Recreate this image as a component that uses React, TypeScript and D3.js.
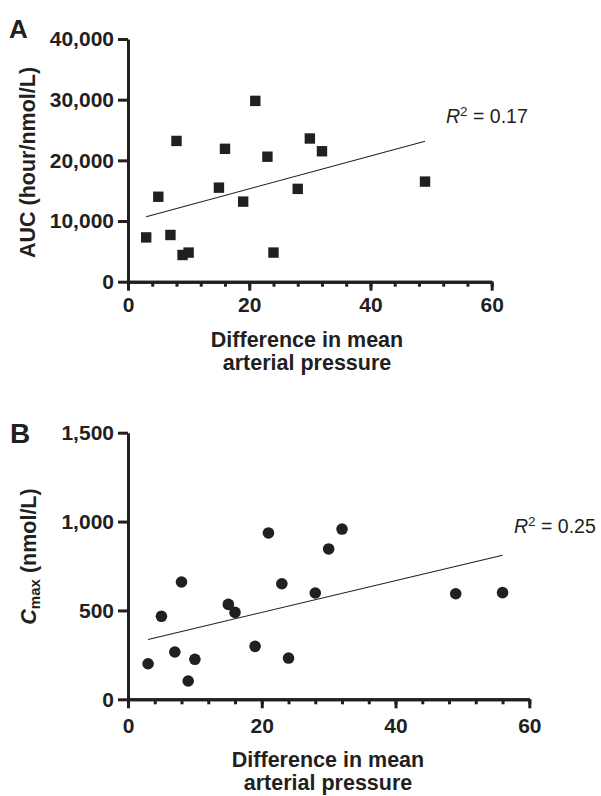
import { useRef, useEffect } from 'react';
import * as d3 from 'd3';

// Difference in mean arterial pressure vs exposure (AUC, Cmax)

const W = 601;
const H = 796;
const INK = '#231f20';
const FONT = '"Liberation Sans", Arial, Helvetica, sans-serif';

// panel A — AUC
const aucX = [3, 5, 7, 8, 9, 10, 15, 16, 19, 21, 23, 24, 28, 30, 32, 49];
const aucY = [7300, 14000, 7700, 23200, 4400, 4800, 15500, 21900, 13200, 29800, 20600, 4800, 15300, 23600, 21500, 16500];
const aucFit = { slope: 270.2, intercept: 9900 };
const aucTicks = [0, 10000, 20000, 30000, 40000];

// panel B — Cmax
const cmaxX = [3, 5, 7, 8, 9, 10, 15, 16, 19, 21, 23, 24, 28, 30, 32, 49, 56];
const cmaxY = [200, 467, 266, 660, 103, 225, 534, 489, 298, 936, 650, 232, 598, 846, 958, 594, 600];
const cmaxFit = { slope: 8.94, intercept: 310 };
const cmaxTicks = [0, 500, 1000, 1500];

const xMajor = [0, 20, 40, 60];
const xMinor = [0, 4, 8, 12, 16, 20, 24, 28, 32, 36, 40, 44, 48, 52, 56, 60];

function drawPanel(g, p) {
  const x = d3.scaleLinear().domain([0, 60]).range([p.left, p.right]);
  const y = d3.scaleLinear().domain([0, p.yMax]).range([p.bottom, p.top]);

  const styleAxis = (a) => {
    a.select('.domain').attr('stroke', INK).attr('stroke-width', 3);
    a.selectAll('.tick line').attr('stroke', INK).attr('stroke-width', 3);
    a.selectAll('.tick text')
      .attr('fill', INK)
      .attr('font-family', FONT)
      .attr('font-weight', 'bold')
      .attr('font-size', 21);
  };

  // minor x ticks
  g.append('g')
    .attr('transform', `translate(0,${p.bottom})`)
    .call(d3.axisBottom(x).tickValues(xMinor).tickSize(5).tickSizeOuter(0).tickFormat(() => ''))
    .call(styleAxis);

  g.append('g')
    .attr('transform', `translate(0,${p.bottom})`)
    .call(d3.axisBottom(x).tickValues(xMajor).tickSize(9).tickSizeOuter(0).tickPadding(p.xPad))
    .call(styleAxis);

  g.append('g')
    .attr('transform', `translate(${p.left},0)`)
    .call(d3.axisLeft(y).tickValues(p.yTicks).tickSize(10).tickSizeOuter(0).tickPadding(4).tickFormat(d3.format(',')))
    .call(styleAxis);

  // regression line over the data range
  const [x0, x1] = d3.extent(p.xs);
  g.append('line')
    .attr('x1', x(x0)).attr('y1', y(p.fit.intercept + p.fit.slope * x0))
    .attr('x2', x(x1)).attr('y2', y(p.fit.intercept + p.fit.slope * x1))
    .attr('stroke', INK).attr('stroke-width', 1.1);

  const pts = p.xs.map((v, i) => [v, p.ys[i]]);
  if (p.marker === 'square') {
    g.selectAll('rect.pt').data(pts).join('rect')
      .attr('x', (d) => x(d[0]) - 5.2).attr('y', (d) => y(d[1]) - 5.2)
      .attr('width', 10.4).attr('height', 10.4)
      .attr('fill', INK);
  } else {
    g.selectAll('circle.pt').data(pts).join('circle')
      .attr('cx', (d) => x(d[0])).attr('cy', (d) => y(d[1]))
      .attr('r', 5.8)
      .attr('fill', INK);
  }

  // R² label
  const r = g.append('text')
    .attr('x', p.r2x).attr('y', p.r2y)
    .attr('font-family', FONT).attr('font-size', 19.5).attr('fill', INK);
  r.append('tspan').attr('font-style', 'italic').text('R');
  r.append('tspan').attr('dy', -7).attr('font-size', 13.5).text('2');
  r.append('tspan').attr('dy', 7).text(` = ${p.r2}`);

  // x title
  const xt = g.append('text')
    .attr('text-anchor', 'middle')
    .attr('font-family', FONT).attr('font-weight', 'bold').attr('font-size', 21.5)
    .attr('fill', INK);
  xt.append('tspan').attr('x', p.xTitleX).attr('y', p.xTitleY).text('Difference in mean');
  xt.append('tspan').attr('x', p.xTitleX).attr('y', p.xTitleY + 23).text('arterial pressure');

  // panel letter
  g.append('text')
    .attr('x', p.letterX).attr('y', p.letterY)
    .attr('font-family', FONT).attr('font-weight', 'bold').attr('font-size', p.letterSize)
    .attr('fill', INK)
    .text(p.letter);
}

export default function App() {
  const svgRef = useRef(null);

  useEffect(() => {
    const svg = d3.select(svgRef.current);
    svg.selectAll('*').remove();

    const gA = svg.append('g');
    drawPanel(gA, {
      xs: aucX, ys: aucY, fit: aucFit, yMax: 40000, yTicks: aucTicks,
      left: 128, right: 491.7, top: 39, bottom: 281.7, xPad: 6,
      marker: 'square', r2: '0.17', r2x: 446, r2y: 123,
      xTitleX: 307, xTitleY: 347,
      letter: 'A', letterX: 9, letterY: 38, letterSize: 26,
    });
    gA.append('text')
      .attr('transform', 'translate(35,162.5) rotate(-90)')
      .attr('text-anchor', 'middle')
      .attr('font-family', FONT).attr('font-weight', 'bold').attr('font-size', 21.5)
      .attr('fill', INK)
      .text('AUC (hour/nmol/L)');

    const gB = svg.append('g');
    drawPanel(gB, {
      xs: cmaxX, ys: cmaxY, fit: cmaxFit, yMax: 1500, yTicks: cmaxTicks,
      left: 128, right: 529.3, top: 432.7, bottom: 699.3, xPad: 10,
      marker: 'circle', r2: '0.25', r2x: 514, r2y: 533,
      xTitleX: 328, xTitleY: 767,
      letter: 'B', letterX: 10, letterY: 443, letterSize: 28,
    });
    const yt = gB.append('text')
      .attr('transform', 'translate(36,556.5) rotate(-90)')
      .attr('text-anchor', 'middle')
      .attr('font-family', FONT).attr('font-weight', 'bold').attr('font-size', 21.5)
      .attr('fill', INK);
    yt.append('tspan').attr('font-style', 'italic').text('C');
    yt.append('tspan').attr('dy', 4).attr('font-size', 15).text('max');
    yt.append('tspan').attr('dy', -4).text(' (nmol/L)');
  }, []);

  return (
    <svg
      ref={svgRef}
      width={W}
      height={H}
      style={{ position: 'absolute', left: 0, top: 0, background: '#fff' }}
    />
  );
}
